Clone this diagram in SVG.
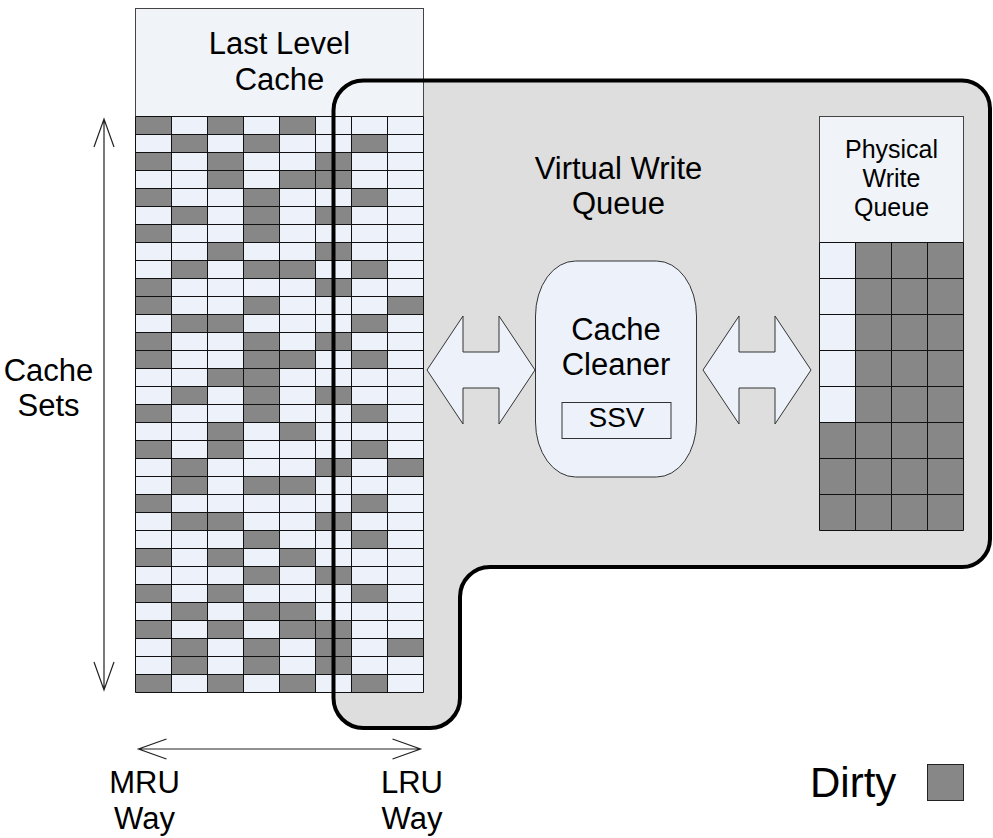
<svg xmlns="http://www.w3.org/2000/svg" width="993" height="838" viewBox="0 0 993 838">
<style>
text{font-family:"Liberation Sans",Arial,sans-serif;fill:#000;text-anchor:middle}
.t31{font-size:31px}
.t26{font-size:25px}
.t28{font-size:28px}
.lt{fill:#EDF2FA}
.dk{fill:#878787}
.gl{fill:none;stroke:#111;stroke-width:1}
.thin{fill:none;stroke:#222;stroke-width:1.2}
.blk{fill:#EDF2FA;stroke:#333;stroke-width:1}
</style>
<rect width="993" height="838" fill="#fff"/>
<g id="vwq-fill">
<path d="M363.5 80.5 H962 A28 28 0 0 1 990 108.5 V539 A28 28 0 0 1 962 567 H490 A30 30 0 0 0 460 597 V698 A30 30 0 0 1 430 728 H363.5 A30 30 0 0 1 333.5 698 V110.5 A30 30 0 0 1 363.5 80.5 Z" fill="#DEDEDE"/>
</g>
<g id="llc">
<rect x="135.5" y="8.5" width="288" height="108" fill="#F0F4F8" stroke="#444" stroke-width="1"/>
<text class="t31" x="279.5" y="53.5">Last Level</text>
<text class="t31" x="279.5" y="89.5">Cache</text>
<rect class="lt" x="135.5" y="116.5" width="288" height="576"/>
<g class="dk">
<rect x="135.5" y="116.5" width="36" height="18"/><rect x="207.5" y="116.5" width="36" height="18"/><rect x="279.5" y="116.5" width="36" height="18"/>
<rect x="171.5" y="134.5" width="36" height="18"/><rect x="243.5" y="134.5" width="36" height="18"/><rect x="351.5" y="134.5" width="36" height="18"/>
<rect x="135.5" y="152.5" width="36" height="18"/><rect x="207.5" y="152.5" width="36" height="18"/><rect x="315.5" y="152.5" width="36" height="18"/>
<rect x="207.5" y="170.5" width="36" height="18"/><rect x="279.5" y="170.5" width="36" height="18"/><rect x="315.5" y="170.5" width="36" height="18"/>
<rect x="135.5" y="188.5" width="36" height="18"/><rect x="243.5" y="188.5" width="36" height="18"/><rect x="351.5" y="188.5" width="36" height="18"/>
<rect x="171.5" y="206.5" width="36" height="18"/><rect x="243.5" y="206.5" width="36" height="18"/><rect x="315.5" y="206.5" width="36" height="18"/>
<rect x="135.5" y="224.5" width="36" height="18"/><rect x="243.5" y="224.5" width="36" height="18"/>
<rect x="207.5" y="242.5" width="36" height="18"/><rect x="315.5" y="242.5" width="36" height="18"/>
<rect x="171.5" y="260.5" width="36" height="18"/><rect x="243.5" y="260.5" width="36" height="18"/><rect x="279.5" y="260.5" width="36" height="18"/><rect x="351.5" y="260.5" width="36" height="18"/>
<rect x="135.5" y="278.5" width="36" height="18"/><rect x="315.5" y="278.5" width="36" height="18"/>
<rect x="135.5" y="296.5" width="36" height="18"/><rect x="243.5" y="296.5" width="36" height="18"/><rect x="387.5" y="296.5" width="36" height="18"/>
<rect x="171.5" y="314.5" width="36" height="18"/><rect x="207.5" y="314.5" width="36" height="18"/><rect x="351.5" y="314.5" width="36" height="18"/>
<rect x="135.5" y="332.5" width="36" height="18"/><rect x="243.5" y="332.5" width="36" height="18"/><rect x="315.5" y="332.5" width="36" height="18"/>
<rect x="135.5" y="350.5" width="36" height="18"/><rect x="243.5" y="350.5" width="36" height="18"/><rect x="279.5" y="350.5" width="36" height="18"/><rect x="351.5" y="350.5" width="36" height="18"/>
<rect x="207.5" y="368.5" width="36" height="18"/><rect x="243.5" y="368.5" width="36" height="18"/>
<rect x="171.5" y="386.5" width="36" height="18"/><rect x="243.5" y="386.5" width="36" height="18"/><rect x="315.5" y="386.5" width="36" height="18"/>
<rect x="135.5" y="404.5" width="36" height="18"/><rect x="243.5" y="404.5" width="36" height="18"/><rect x="351.5" y="404.5" width="36" height="18"/>
<rect x="207.5" y="422.5" width="36" height="18"/><rect x="279.5" y="422.5" width="36" height="18"/>
<rect x="135.5" y="440.5" width="36" height="18"/><rect x="207.5" y="440.5" width="36" height="18"/><rect x="351.5" y="440.5" width="36" height="18"/>
<rect x="171.5" y="458.5" width="36" height="18"/><rect x="315.5" y="458.5" width="36" height="18"/><rect x="387.5" y="458.5" width="36" height="18"/>
<rect x="171.5" y="476.5" width="36" height="18"/><rect x="243.5" y="476.5" width="36" height="18"/><rect x="279.5" y="476.5" width="36" height="18"/>
<rect x="135.5" y="494.5" width="36" height="18"/><rect x="351.5" y="494.5" width="36" height="18"/>
<rect x="171.5" y="512.5" width="36" height="18"/><rect x="207.5" y="512.5" width="36" height="18"/><rect x="315.5" y="512.5" width="36" height="18"/>
<rect x="243.5" y="530.5" width="36" height="18"/><rect x="351.5" y="530.5" width="36" height="18"/>
<rect x="135.5" y="548.5" width="36" height="18"/><rect x="207.5" y="548.5" width="36" height="18"/><rect x="279.5" y="548.5" width="36" height="18"/>
<rect x="243.5" y="566.5" width="36" height="18"/><rect x="315.5" y="566.5" width="36" height="18"/>
<rect x="135.5" y="584.5" width="36" height="18"/><rect x="207.5" y="584.5" width="36" height="18"/><rect x="351.5" y="584.5" width="36" height="18"/>
<rect x="171.5" y="602.5" width="36" height="18"/><rect x="243.5" y="602.5" width="36" height="18"/><rect x="279.5" y="602.5" width="36" height="18"/>
<rect x="135.5" y="620.5" width="36" height="18"/><rect x="207.5" y="620.5" width="36" height="18"/><rect x="279.5" y="620.5" width="36" height="18"/><rect x="315.5" y="620.5" width="36" height="18"/>
<rect x="171.5" y="638.5" width="36" height="18"/><rect x="243.5" y="638.5" width="36" height="18"/><rect x="315.5" y="638.5" width="36" height="18"/><rect x="387.5" y="638.5" width="36" height="18"/>
<rect x="171.5" y="656.5" width="36" height="18"/><rect x="243.5" y="656.5" width="36" height="18"/><rect x="315.5" y="656.5" width="36" height="18"/>
<rect x="135.5" y="674.5" width="36" height="18"/><rect x="207.5" y="674.5" width="36" height="18"/><rect x="279.5" y="674.5" width="36" height="18"/><rect x="351.5" y="674.5" width="36" height="18"/>
</g>
<path class="gl" d="M135.5 116.5V692.5M171.5 116.5V692.5M207.5 116.5V692.5M243.5 116.5V692.5M279.5 116.5V692.5M315.5 116.5V692.5M351.5 116.5V692.5M387.5 116.5V692.5M423.5 116.5V692.5
M135.5 116.5H423.5M135.5 134.5H423.5M135.5 152.5H423.5M135.5 170.5H423.5M135.5 188.5H423.5M135.5 206.5H423.5M135.5 224.5H423.5M135.5 242.5H423.5
M135.5 260.5H423.5M135.5 278.5H423.5M135.5 296.5H423.5M135.5 314.5H423.5M135.5 332.5H423.5M135.5 350.5H423.5M135.5 368.5H423.5M135.5 386.5H423.5
M135.5 404.5H423.5M135.5 422.5H423.5M135.5 440.5H423.5M135.5 458.5H423.5M135.5 476.5H423.5M135.5 494.5H423.5M135.5 512.5H423.5M135.5 530.5H423.5
M135.5 548.5H423.5M135.5 566.5H423.5M135.5 584.5H423.5M135.5 602.5H423.5M135.5 620.5H423.5M135.5 638.5H423.5M135.5 656.5H423.5M135.5 674.5H423.5M135.5 692.5H423.5"/>
</g>
<g id="vwq">
<path d="M363.5 80.5 H962 A28 28 0 0 1 990 108.5 V539 A28 28 0 0 1 962 567 H490 A30 30 0 0 0 460 597 V698 A30 30 0 0 1 430 728 H363.5 A30 30 0 0 1 333.5 698 V110.5 A30 30 0 0 1 363.5 80.5 Z" fill="none" stroke="#000" stroke-width="4"/>
<text class="t31" x="618.5" y="178.5">Virtual Write</text>
<text class="t31" x="618.5" y="213.5">Queue</text>
</g>
<g id="pwq">
<rect x="819.5" y="116.5" width="144" height="126" fill="#F0F4F8" stroke="#444" stroke-width="1"/>
<text class="t26" x="891.5" y="158">Physical</text>
<text class="t26" x="891.5" y="187">Write</text>
<text class="t26" x="891.5" y="216">Queue</text>
<rect class="dk" x="819.5" y="242.5" width="144" height="288"/>
<rect class="lt" x="819.5" y="242.5" width="36" height="180"/>
<path class="gl" d="M819.5 242.5V530.5M855.5 242.5V530.5M891.5 242.5V530.5M927.5 242.5V530.5M963.5 242.5V530.5
M819.5 242.5H963.5M819.5 278.5H963.5M819.5 314.5H963.5M819.5 350.5H963.5M819.5 386.5H963.5M819.5 422.5H963.5M819.5 458.5H963.5M819.5 494.5H963.5M819.5 530.5H963.5"/>
</g>
<g id="cache-cleaner">
<rect class="blk" x="535.5" y="261" width="161" height="216" rx="40" ry="55"/>
<text class="t31" x="616" y="339.5">Cache</text>
<text class="t31" x="616" y="374.5">Cleaner</text>
<rect class="blk" x="562" y="402.5" width="109" height="36"/>
<text class="t28" x="616.5" y="427">SSV</text>
</g>
<g id="labels">
<text class="t31" x="48.5" y="381">Cache</text>
<text class="t31" x="48.5" y="416">Sets</text>
<text class="t31" x="144.5" y="793">MRU</text>
<text class="t31" x="144.5" y="829">Way</text>
<text class="t31" x="412" y="793">LRU</text>
<text class="t31" x="412" y="829">Way</text>
</g>
<g id="legend">
<text x="810" y="797" style="font-size:42px;text-anchor:start">Dirty</text>
<rect class="dk" x="927.5" y="764.5" width="36" height="36" stroke="#222" stroke-width="1"/>
</g>
<g id="connectors">
<polygon class="blk" points="427,370 463,316 463,352 499,352 499,316 535,370 499,424 499,388 463,388 463,424"/>
<polygon class="blk" points="703,370 739,316 739,352 775,352 775,316 811,370 775,424 775,388 739,388 739,424"/>
<path class="thin" d="M104 119V690M94 147L104 119L114 147M94 662L104 690L114 662"/>
<path class="thin" d="M138.5 749H420.5M166.5 739L138.5 749L166.5 759M392.5 739L420.5 749L392.5 759"/>
</g>
</svg>
